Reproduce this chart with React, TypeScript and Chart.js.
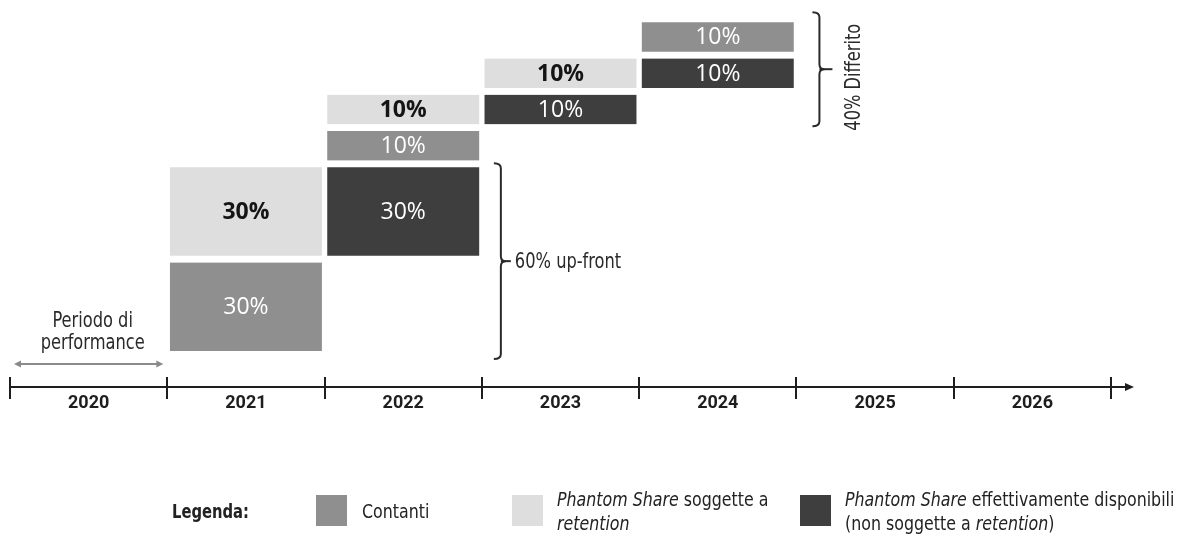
import React, { useEffect, useRef } from "react";
import { Chart, registerables } from "chart.js";

Chart.register(...registerables);

// Vesting calendar of the variable pay (share of the total award, in %)
const years = ["2020", "2021", "2022", "2023", "2024", "2025", "2026"];

// Tranche sizes per year
const cashPct = [null, 30, 10, null, 10, null, null];
const retainedPct = [null, 30, 10, 10, null, null, null];
const vestedPct = [null, null, 30, 10, 10, null, null];

// Cumulative share of the award at which each tranche begins
const cashFrom = [null, 0, 60, null, 90, null, null];
const retainedFrom = [null, 30, 70, 80, null, null, null];
const vestedFrom = [null, null, 30, 70, 80, null, null];

const seriesNames = [
  "Contanti",
  "Phantom Share soggette a retention",
  "Phantom Share effettivamente disponibili (non soggette a retention)",
];

const COLOR_CASH = "#8f8f8f";
const COLOR_RETAINED = "#dedede";
const COLOR_VESTED = "#3e3e3e";

const NARROW = '"DejaVu Sans Condensed", "DejaVu Sans", sans-serif';
const TICK_FONT = '"Roboto", "Liberation Sans", sans-serif';
const LABEL_FONT = '"Open Sans", "Noto Sans", sans-serif';
// horizontal squeeze applied to the condensed annotation face
const SQUEEZE = 0.86;

// white space left between stacked tranches (value units)
const GAP = 2.3;
const levelStarts = [0, 30, 60, 70, 80, 90];

function ranges(pcts: (number | null)[], froms: (number | null)[]) {
  return pcts.map((p, i) => {
    const f = froms[i];
    if (p == null || f == null) return null;
    const base = f + levelStarts.indexOf(f) * GAP;
    return [base, base + p];
  });
}

function narrowText(
  ctx: CanvasRenderingContext2D,
  text: string,
  x: number,
  y: number,
  align: CanvasTextAlign,
  rotate = 0
) {
  ctx.save();
  ctx.translate(x, y);
  if (rotate) ctx.rotate(rotate);
  ctx.scale(SQUEEZE, 1);
  ctx.textAlign = align;
  ctx.textBaseline = "middle";
  ctx.fillText(text, 0, 0);
  ctx.restore();
}

function drawBrace(
  ctx: CanvasRenderingContext2D,
  x: number,
  top: number,
  bottom: number,
  tip: number
) {
  const mid = (top + bottom) / 2;
  const r = 5;
  ctx.beginPath();
  ctx.moveTo(x - 7, top);
  ctx.quadraticCurveTo(x, top, x, top + r);
  ctx.lineTo(x, mid - r);
  ctx.quadraticCurveTo(x, mid, x + r, mid);
  ctx.quadraticCurveTo(x, mid, x, mid + r);
  ctx.lineTo(x, bottom - r);
  ctx.quadraticCurveTo(x, bottom, x - 7, bottom);
  ctx.stroke();
  ctx.beginPath();
  ctx.moveTo(x, mid);
  ctx.lineTo(x + tip, mid);
  ctx.stroke();
  return mid;
}

const decorations = {
  id: "decorations",
  afterDatasetsDraw(chart: any) {
    const ctx = chart.ctx;
    ctx.save();
    ctx.textAlign = "center";
    ctx.textBaseline = "middle";
    chart.data.datasets.forEach((ds: any, di: number) => {
      const meta = chart.getDatasetMeta(di);
      meta.data.forEach((el: any, i: number) => {
        const pct = ds.pct[i];
        if (pct == null) return;
        const c = el.getCenterPoint();
        if (di === 1) {
          ctx.font = `bold 23px ${LABEL_FONT}`;
          ctx.fillStyle = "#151515";
        } else {
          ctx.font = `23px ${LABEL_FONT}`;
          ctx.fillStyle = "#ffffff";
        }
        ctx.fillText(`${pct}%`, c.x, c.y + 1);
      });
    });
    ctx.restore();
  },
  afterDraw(chart: any) {
    const ctx = chart.ctx;
    const ys = chart.scales.y;
    const area = chart.chartArea;
    const colW = (area.right - area.left) / years.length;
    const edge = (i: number) => area.left + i * colW;
    const axisY = area.bottom;

    ctx.save();
    ctx.strokeStyle = "#1e1e1e";
    ctx.fillStyle = "#1e1e1e";
    ctx.lineWidth = 2;

    // year separators on the time line
    for (let i = 0; i <= years.length; i++) {
      const x = Math.round(edge(i));
      ctx.beginPath();
      ctx.moveTo(x, axisY - 10);
      ctx.lineTo(x, axisY + 12);
      ctx.stroke();
    }
    // arrow continuing the time line
    ctx.beginPath();
    ctx.moveTo(area.right, axisY);
    ctx.lineTo(area.right + 16, axisY);
    ctx.stroke();
    ctx.beginPath();
    ctx.moveTo(area.right + 23, axisY);
    ctx.lineTo(area.right + 14, axisY - 4);
    ctx.lineTo(area.right + 14, axisY + 4);
    ctx.closePath();
    ctx.fill();

    // performance period (first year)
    const py = axisY - 23;
    const p0 = edge(0) + 4;
    const p1 = edge(1) - 4;
    ctx.strokeStyle = "#8a8a8a";
    ctx.fillStyle = "#8a8a8a";
    ctx.lineWidth = 2;
    ctx.beginPath();
    ctx.moveTo(p0 + 4, py);
    ctx.lineTo(p1 - 4, py);
    ctx.stroke();
    [
      [p0, 1],
      [p1, -1],
    ].forEach(([x, d]) => {
      ctx.beginPath();
      ctx.moveTo(x, py);
      ctx.lineTo(x + d * 7, py - 3.5);
      ctx.lineTo(x + d * 7, py + 3.5);
      ctx.closePath();
      ctx.fill();
    });
    ctx.fillStyle = "#2a2a2a";
    ctx.font = `21px ${NARROW}`;
    const pcx = (edge(0) + edge(1)) / 2 + 4;
    narrowText(ctx, "Periodo di", pcx, py - 42, "center");
    narrowText(ctx, "performance", pcx, py - 20, "center");

    // up-front brace (first 60%)
    ctx.strokeStyle = "#2a2a2a";
    ctx.lineWidth = 2;
    const upTop = ys.getPixelForValue(30 + GAP + 30) - 4;
    const upBottom = ys.getPixelForValue(0) + 8;
    const ux = edge(3) + 19;
    const umid = drawBrace(ctx, ux, upTop, upBottom, 10);
    narrowText(ctx, "60% up-front", ux + 14, umid + 1, "left");

    // deferred brace (last 40%)
    const dTop = ys.getPixelForValue(90 + 5 * GAP + 10) - 10;
    const dBottom = ys.getPixelForValue(70 + 3 * GAP) + 2;
    const dx = edge(5) + 23;
    const dmid = drawBrace(ctx, dx, dTop, dBottom, 13);
    narrowText(ctx, "40% Differito", dx + 35, dmid + 8, "center", -Math.PI / 2);

    ctx.restore();
  },
};

export default function App() {
  const canvasRef = useRef<HTMLCanvasElement | null>(null);

  useEffect(() => {
    document.body.style.margin = "0";
    const canvas = canvasRef.current;
    if (!canvas) return;
    const common = {
      grouped: false,
      categoryPercentage: 1,
      barPercentage: 1,
      borderColor: "#ffffff",
      borderWidth: { left: 3, right: 3, top: 0, bottom: 0 },
      borderSkipped: false,
    };
    const chart = new Chart(canvas, {
      type: "bar",
      data: {
        labels: years,
        datasets: [
          {
            ...common,
            label: seriesNames[0],
            data: ranges(cashPct, cashFrom) as any,
            pct: cashPct,
            backgroundColor: COLOR_CASH,
          } as any,
          {
            ...common,
            label: seriesNames[1],
            data: ranges(retainedPct, retainedFrom) as any,
            pct: retainedPct,
            backgroundColor: COLOR_RETAINED,
          } as any,
          {
            ...common,
            label: seriesNames[2],
            data: ranges(vestedPct, vestedFrom) as any,
            pct: vestedPct,
            backgroundColor: COLOR_VESTED,
          } as any,
        ],
      },
      options: {
        responsive: false,
        animation: false,
        layout: { padding: { left: 10, right: 68, top: 21, bottom: 0 } },
        plugins: {
          legend: { display: false },
          tooltip: { enabled: false },
        },
        scales: {
          x: {
            offset: true,
            grid: { display: false, drawTicks: false },
            border: { display: true, color: "#1e1e1e", width: 2 },
            ticks: {
              color: "#1e1e1e",
              font: { family: TICK_FONT, size: 18, weight: "bold" },
              padding: 6,
            },
            afterFit: (scale: any) => {
              scale.height = 149;
            },
          },
          y: {
            display: false,
            min: -12.2,
            max: 111.9,
          },
        },
      },
      plugins: [decorations],
    });
    return () => chart.destroy();
  }, []);

  const legendText = (left: number, top: number, bold = false): React.CSSProperties => ({
    position: "absolute",
    left,
    top,
    fontFamily: NARROW,
    fontSize: 20,
    fontWeight: bold ? "bold" : "normal",
    color: "#222",
    lineHeight: "24px",
    whiteSpace: "nowrap",
    transform: `scaleX(${bold ? 0.82 : 0.88})`,
    transformOrigin: "left center",
  });
  const swatch = (left: number, color: string): React.CSSProperties => ({
    position: "absolute",
    left,
    top: 495,
    width: 31,
    height: 31,
    background: color,
  });

  return (
    <div style={{ position: "relative", width: 1179, height: 536, background: "#fff" }}>
      <canvas ref={canvasRef} width={1179} height={536} style={{ display: "block" }} />
      <div style={legendText(172, 499, true)}>Legenda:</div>
      <div style={swatch(316, COLOR_CASH)} />
      <div style={legendText(362, 499)}>Contanti</div>
      <div style={swatch(512, COLOR_RETAINED)} />
      <div style={legendText(557, 487)}>
        <i>Phantom Share</i> soggette a
        <br />
        <i>retention</i>
      </div>
      <div style={swatch(800, COLOR_VESTED)} />
      <div style={legendText(845, 487)}>
        <i>Phantom Share</i> effettivamente disponibili
        <br />
        (non soggette a <i>retention</i>)
      </div>
    </div>
  );
}
